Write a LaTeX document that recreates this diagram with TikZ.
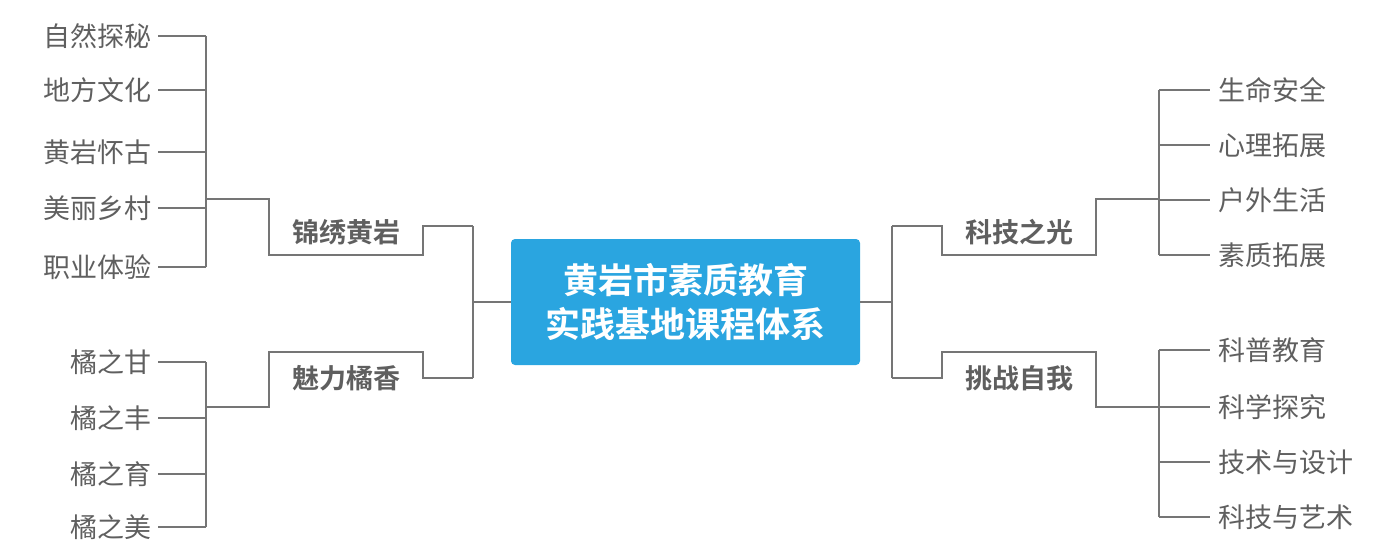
\documentclass[tikz,border=0pt]{standalone}
\usepackage{fontspec}
\newfontfamily\cjk{Noto Sans CJK SC}
\newfontfamily\cjkb{Noto Sans CJK SC Bold}
\definecolor{ln}{HTML}{757575}
\definecolor{tx}{HTML}{5F5F5F}
\definecolor{bl}{HTML}{2AA5E0}
\begin{document}
\begin{tikzpicture}[x=1pt,y=-1pt,
  wire/.style={draw=ln,line width=2.2pt},
  leafL/.style={anchor=east,inner sep=0pt,text=tx,font=\cjk\fontsize{27}{30}\selectfont},
  leafR/.style={anchor=west,inner sep=0pt,text=tx,font=\cjk\fontsize{27}{30}\selectfont},
  lab/.style={inner sep=0pt,text=tx,font=\cjkb\fontsize{27}{30}\selectfont},
  root/.style={fill=bl,rounded corners=4pt,text=white,align=center,minimum width=349pt,minimum height=126pt,inner sep=0pt,font=\cjkb\fontsize{35}{44}\selectfont}]
\useasboundingbox (0,0) rectangle (1398,559);
\node[root] (c) at (685.5,302) {黄岩市素质教育\\实践基地课程体系};
% labels
\node[lab] (a) at (346,232) {锦绣黄岩};
\node[lab] (b) at (346,378) {魅力橘香};
\node[lab] (r1) at (1019,232) {科技之光};
\node[lab] (r2) at (1019,378) {挑战自我};
% left main bracket
\draw[wire] (c.west) -- (473,302);
\draw[wire] (473,226) -- (473,378);
\draw[wire] (473,226) -- (423,226) -- (423,255) -- (269,255) -- (269,199) -- (206,199);
\draw[wire] (473,378) -- (423,378) -- (423,352) -- (269,352) -- (269,407) -- (206,407);
\draw[wire] (206,36) -- (206,267);
\draw[wire] (206,362) -- (206,527);
% right main bracket
\draw[wire] (c.east) -- (892,302);
\draw[wire] (892,226) -- (892,378);
\draw[wire] (892,226) -- (942,226) -- (942,255) -- (1096,255) -- (1096,199) -- (1159,199);
\draw[wire] (892,378) -- (942,378) -- (942,352) -- (1096,352) -- (1096,407) -- (1159,407);
\draw[wire] (1159,90) -- (1159,255);
\draw[wire] (1159,350) -- (1159,517);
% left leaves
\foreach \y/\t [count=\i] in {36/自然探秘,90/地方文化,152/黄岩怀古,208/美丽乡村,267/职业体验,362/橘之甘,418/橘之丰,474/橘之育,527/橘之美}{
  \node[leafL] (l\i) at (152,\y) {\t};
  \draw[wire] (206,\y) -- (158,\y);
}
% right leaves
\foreach \y/\t [count=\i] in {90/生命安全,145/心理拓展,200/户外生活,255/素质拓展,350/科普教育,407/科学探究,462/技术与设计,517/科技与艺术}{
  \node[leafR] (q\i) at (1218,\y) {\t};
  \draw[wire] (1159,\y) -- (1210,\y);
}
\end{tikzpicture}
\end{document}
